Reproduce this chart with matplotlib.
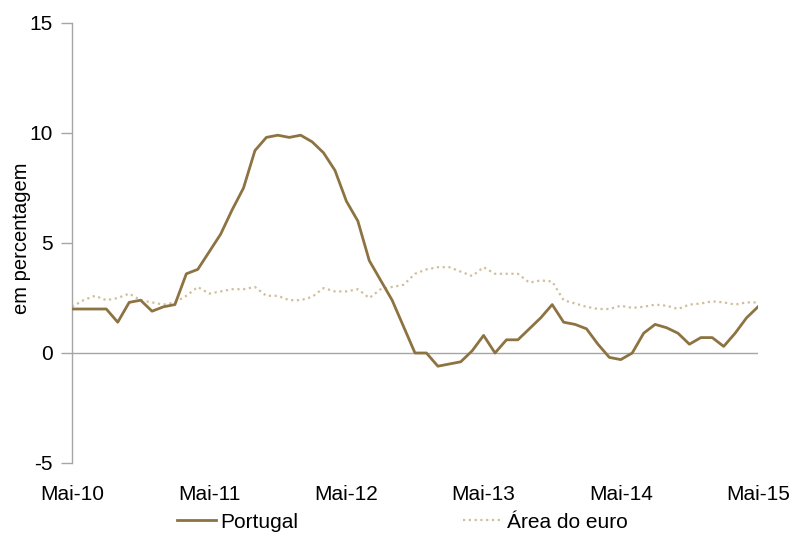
import matplotlib
matplotlib.use("Agg")
import matplotlib.pyplot as plt
import numpy as np

plt.rcParams["font.family"] = ["Liberation Sans Narrow", "Liberation Sans", "DejaVu Sans"]

# monthly, May 2010 .. May 2015
portugal = [2.0, 2.0, 2.0, 2.0, 1.4, 2.3, 2.4, 1.9, 2.1, 2.2,
            3.6, 3.8, 4.6, 5.4, 6.5, 7.5, 9.2, 9.8, 9.9, 9.8,
            9.9, 9.6, 9.1, 8.3, 6.9, 6.0, 4.2, 3.3, 2.4, 1.2,
            0.0, 0.0, -0.6, -0.5, -0.4, 0.1, 0.8, 0.0, 0.6, 0.6,
            1.1, 1.6, 2.2, 1.4, 1.3, 1.1, 0.4, -0.2, -0.3, 0.0,
            0.9, 1.3, 1.15, 0.9, 0.4, 0.7, 0.7, 0.3, 0.9, 1.6,
            2.1]
euro = [2.1, 2.4, 2.6, 2.4, 2.5, 2.7, 2.4, 2.3, 2.2, 2.3,
        2.6, 3.0, 2.7, 2.8, 2.9, 2.9, 3.0, 2.6, 2.6, 2.4,
        2.4, 2.55, 2.95, 2.8, 2.8, 2.9, 2.5, 2.9, 3.0, 3.1,
        3.6, 3.8, 3.9, 3.9, 3.7, 3.5, 3.9, 3.6, 3.6, 3.6,
        3.2, 3.3, 3.25, 2.4, 2.25, 2.1, 2.0, 2.0, 2.15, 2.05,
        2.1, 2.2, 2.15, 2.0, 2.2, 2.25, 2.35, 2.3, 2.2, 2.3,
        2.3]
tick_labels = ["Mai-10", "Mai-11", "Mai-12", "Mai-13", "Mai-14", "Mai-15"]
y_ticks = [-5, 0, 5, 10, 15]

GREY = "#a6a6a6"
fig = plt.figure(figsize=(7.92, 5.36), dpi=100)
ax = fig.add_axes([72 / 792, 1 - 463 / 536, (758 - 72) / 792, 440 / 536])

x = np.arange(len(portugal))
ax.plot(x, portugal, color="#8c7341", lw=2.0, label="Portugal", zorder=3)
ax.plot(x, euro, color="#d0bf9c", lw=1.6, ls=(0, (1, 1.6)), label="Área do euro", zorder=2)
ax.axhline(0, color=GREY, lw=1.0, zorder=1)

ax.set_xlim(0, 60)
ax.set_ylim(-5, 15)
ax.set_yticks(y_ticks)
ax.set_yticklabels([str(v) for v in y_ticks], fontsize=15)
ax.set_xticks(np.arange(0, 61, 12))
ax.set_xticklabels(tick_labels, fontsize=15)
ax.tick_params(axis="x", length=0, pad=16)
ax.tick_params(axis="y", length=8, width=1, color=GREY, pad=6)

for side in ("top", "right", "bottom"):
    ax.spines[side].set_visible(False)
ax.spines["left"].set_color(GREY)
ax.spines["left"].set_linewidth(1.0)

fig.text(22 / 792, 1 - 238 / 536, "em percentagem", rotation=90,
         ha="center", va="center", fontsize=14.5)

fig.legend(loc="center", bbox_to_anchor=(402 / 792, 1 - 522 / 536), ncol=2,
           frameon=False, fontsize=15, handlelength=1.9, handletextpad=0.2,
           columnspacing=7.9, borderpad=0)

fig.savefig("out.png", dpi=100)
